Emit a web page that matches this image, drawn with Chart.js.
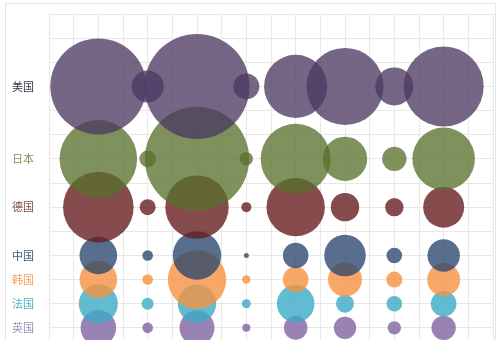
<!DOCTYPE html>
<html>
<head>
<meta charset="utf-8">
<script src="https://cdn.jsdelivr.net/npm/chart.js@4/dist/chart.umd.min.js"></script>
<style>
  html, body { margin: 0; padding: 0; background: #fff; overflow: hidden; width: 500px; height: 340px; }
  #frame { position: absolute; left: 5px; top: 3px; width: 489px; height: 400px; border: 1px solid #e6e6e6; }
  #grafico { position: absolute; left: 0; top: 0; }
</style>
</head>
<body>
<div id="frame"></div>
<canvas id="grafico" width="500" height="356"></canvas>
<script>
// países (linhas) e colunas
const paises = ['美国', '日本', '德国', '中国', '韩国', '法国', '英国'];
const linhas = [3, 6, 8, 10, 11, 12, 13];       // posição no eixo y
const colunas = [2, 4, 6, 8, 10, 12, 14, 16];   // posição no eixo x

// valores (tamanho da bolha)
const eua = [48, 16, 52.5, 13, 31.6, 38.5, 19, 40];
const japao = [38.8, 8.3, 52.2, 6.7, 35, 22.2, 12.2, 31.3];
const alemanha = [35.3, 8, 31.7, 5, 29.2, 14.2, 9.2, 20.5];
const china = [18.8, 5.3, 24.2, 2.5, 12.8, 20.8, 7.8, 16.2];
const coreia = [18.8, 5.3, 29.2, 4.2, 12.8, 17, 8, 16.5];
const franca = [19.5, 6, 19.2, 4.5, 18.8, 9, 7.8, 12.8];
const reino = [17.8, 5.3, 17.5, 4, 11.8, 11.2, 6.7, 12.2];

const valores = [eua, japao, alemanha, china, coreia, franca, reino];
const cores = ['rgba(75,56,98,0.77)', 'rgba(88,112,44,0.77)', 'rgba(104,30,33,0.8)',
               'rgba(42,69,107,0.78)', 'rgba(245,146,66,0.8)', 'rgba(60,170,198,0.8)', 'rgba(128,100,162,0.8)'];
const coresTexto = ['#40364f', '#7d9456', '#8a4a4a', '#3f5a7e', '#f4a25b', '#4fb3c9', '#9e8fb5'];

const datasets = paises.map((p, i) => ({
    label: p,
    data: valores[i].map((v, j) => ({ x: colunas[j], y: linhas[i], r: v })),
    backgroundColor: cores[i],
    borderWidth: 0,
    hoverBorderWidth: 0
}));

// tira o espaço extra que os rótulos reservam
function semPadding(s) {
    s.paddingTop = 0; s.paddingBottom = 0; s.paddingLeft = 0; s.paddingRight = 0;
}

new Chart(document.getElementById('grafico').getContext('2d'), {
    type: 'bubble',
    data: { datasets },
    options: {
        responsive: false,
        animation: false,
        layout: { autoPadding: false, padding: { top: 14, right: 7, bottom: 4, left: 0 } },
        plugins: { legend: { display: false }, tooltip: { enabled: false } },
        scales: {
            x: {
                type: 'linear', min: 0, max: 18,
                afterFit: (s) => { s.height = 0; semPadding(s); },
                ticks: { stepSize: 1, display: false },
                grid: { color: '#e8e8e8', drawTicks: false },
                border: { display: false }
            },
            y: {
                type: 'linear', min: 0, max: 14, reverse: true,
                afterFit: (s) => { s.width = 49; semPadding(s); },
                afterBuildTicks: (s) => { s.ticks = Array.from({ length: 15 }, (_, i) => ({ value: i })); },
                ticks: {
                    padding: 15,
                    autoSkip: false,
                    font: { family: '"Noto Sans CJK SC"', size: 11 },
                    callback: (v) => { const k = linhas.indexOf(v); return k >= 0 ? paises[k] : ''; },
                    color: (ctx) => { const k = linhas.indexOf(ctx.tick.value); return k >= 0 ? coresTexto[k] : '#666'; }
                },
                grid: { color: '#e8e8e8', drawTicks: false },
                border: { display: false }
            }
        }
    }
});
</script>
</body>
</html>
